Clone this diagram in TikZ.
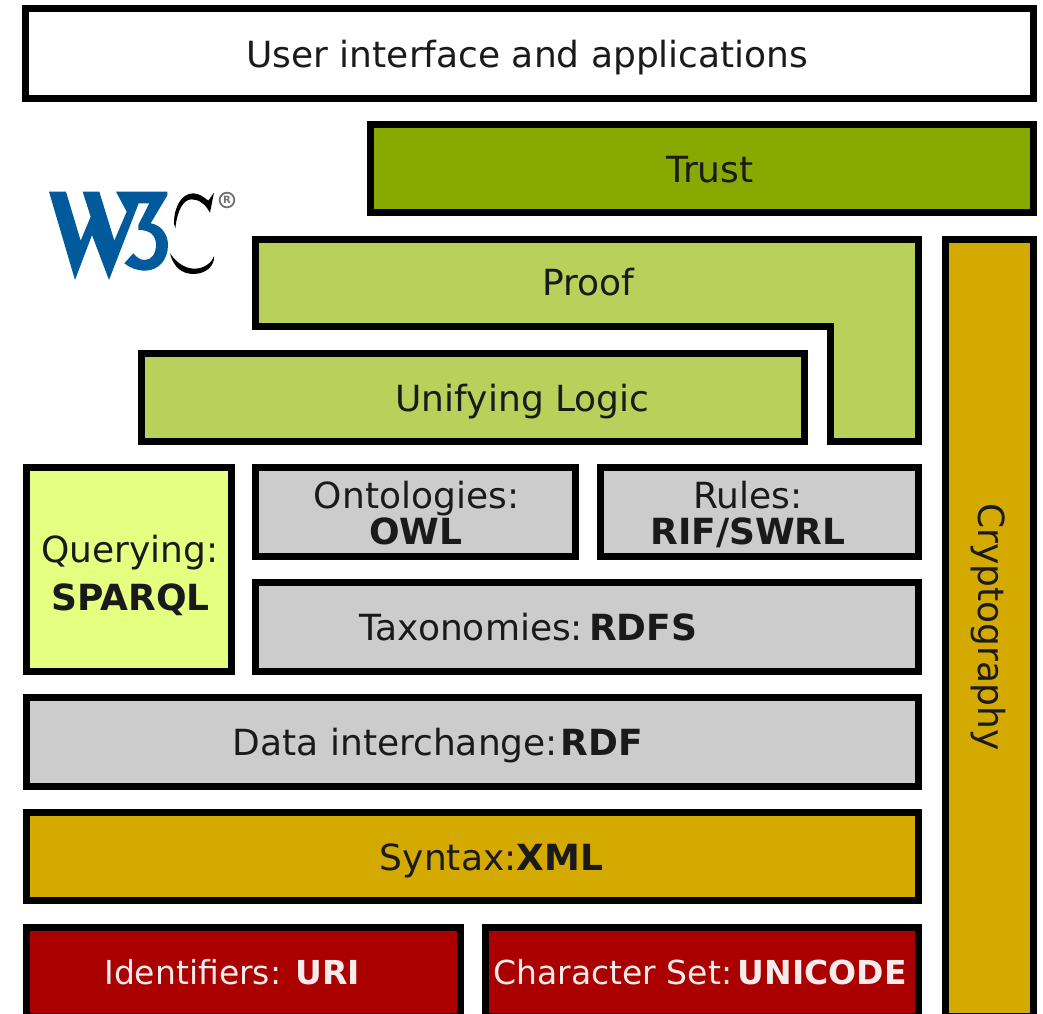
\documentclass[tikz,border=0pt]{standalone}
\usepackage{fontspec}
\setmainfont{DejaVu Sans}
\definecolor{trustc}{HTML}{88AA00}
\definecolor{proofc}{HTML}{B9D05A}
\definecolor{queryc}{HTML}{E5FF80}
\definecolor{grayc}{HTML}{CCCCCC}
\definecolor{syntaxc}{HTML}{D4AA00}
\definecolor{redc}{HTML}{AA0000}
\definecolor{w3blue}{HTML}{005A9C}
\definecolor{txtc}{HTML}{1A1A1A}
\tikzset{
  layer/.style={draw=black,line width=7pt,miter limit=10},
  lbl/.style={font=\fontsize{36}{36}\selectfont,text=txtc,inner sep=0pt,align=center},
  lblb/.style={lbl,anchor=base},
  lblw/.style={lbl,anchor=base,font=\fontsize{33}{36}\selectfont,text=white!92!redc},
}
\begin{document}
\begin{tikzpicture}[x=1pt,y=-1pt]
\useasboundingbox (0,0) rectangle (1043,1013);
\begin{scope}
\clip (0,0) rectangle (1043,1013);
\fill[white] (0,0) rectangle (1043,1013);
\path[layer,fill=white] (25.5,8.5) rectangle (1033,98);
\path[layer,fill=trustc] (370,124) rectangle (1033,212);
\path[layer,fill=syntaxc] (945,239) rectangle (1033,1016);
\path[layer,fill=proofc] (255,239) -- (918,239) -- (918,441) -- (830,441) -- (830,326) -- (255,326) -- cycle;
\path[layer,fill=proofc] (141,353) rectangle (804,441);
\path[layer,fill=queryc] (26,467) rectangle (231,671);
\path[layer,fill=grayc] (255,467) rectangle (575,556);
\path[layer,fill=grayc] (600,467) rectangle (918,556);
\path[layer,fill=grayc] (255,582) rectangle (918,671);
\path[layer,fill=grayc] (26,697) rectangle (918,786);
\path[layer,fill=syntaxc] (26,812) rectangle (918,900);
\path[layer,fill=redc] (26,927) rectangle (460,1016);
\path[layer,fill=redc] (485,927) rectangle (918,1016);
\end{scope}
\node[lblb] (ui) at (527.5,67) {User interface and applications};
\node[lblb] (trust) at (710,182) {Trust};
\node[lblb] (proof) at (588,295) {Proof};
\node[lblb] (logic) at (522.5,411) {Unifying Logic};
\node[lblb] (querya) at (130,562) {Querying:};
\node[lblb] (queryb) at (130.5,610) {\textbf{SPARQL}};
\node[lblb] (ontoa) at (416.5,508) {Ontologies:};
\node[lblb] (ontob) at (416,544) {\textbf{OWL}};
\node[lblb] (rulesa) at (748,508) {Rules:};
\node[lblb] (rulesb) at (748,544) {\textbf{RIF/SWRL}};
\node[lblb] (tax) at (528.5,640) {Taxonomies:\,\textbf{RDFS}};
\node[lblb] (data) at (438,755) {Data interchange:\kern3pt\textbf{RDF}};
\node[lblb] (syn) at (491.5,870) {Syntax:\textbf{XML}};
\node[lblw] (uri) at (232,984) {Identifiers: \textbf{URI}};
\node[lblw] (uni) at (700,984) {Character Set:\,\textbf{UNICODE}};
\node[lbl,rotate=-90,anchor=base] (crypto) at (978,627) {Cryptography};
% W3C logo
\begin{scope}[shift={(30,170)},x=0.3333pt,y=-0.3333pt]
\fill[w3blue] (57,65) -- (108,65) -- (152,212) -- (182,140) -- (158,65) -- (208,65) -- (253,212) -- (290,125) -- (258,65) -- (412,65) -- (412,76) -- (362,160)
 .. controls (395,165) and (414,195) .. (414,225)
 .. controls (414,270) and (385,302) .. (345,302)
 .. controls (320,302) and (298,292) .. (283,280)
 -- (310,250)
 .. controls (320,262) and (330,270) .. (345,270)
 .. controls (365,270) and (378,250) .. (378,225)
 .. controls (378,195) and (360,180) .. (325,180)
 -- (325,165) -- (358,100) -- (326,100) -- (237,330) -- (186,195) -- (135,330) -- cycle;
\fill[black] (432,160) .. controls (432,110) and (455,70) .. (490,70)
 .. controls (510,70) and (525,85) .. (535,92) -- (552,68) -- (540,128)
 .. controls (525,100) and (505,88) .. (485,88)
 .. controls (460,88) and (442,120) .. (436,175) -- cycle;
\fill[black] (420,250) .. controls (445,285) and (470,296) .. (495,296)
 .. controls (520,296) and (545,280) .. (552,258)
 .. controls (555,285) and (530,312) .. (490,312)
 .. controls (455,312) and (430,290) .. (420,250) -- cycle;
\draw[black!55,line width=1.8pt] (591,90) circle[radius=22];
\node[text=black!55,inner sep=0pt,font=\bfseries\fontsize{10}{10}\selectfont] (reg) at (591,90) {R};
\end{scope}
\end{tikzpicture}
\end{document}
